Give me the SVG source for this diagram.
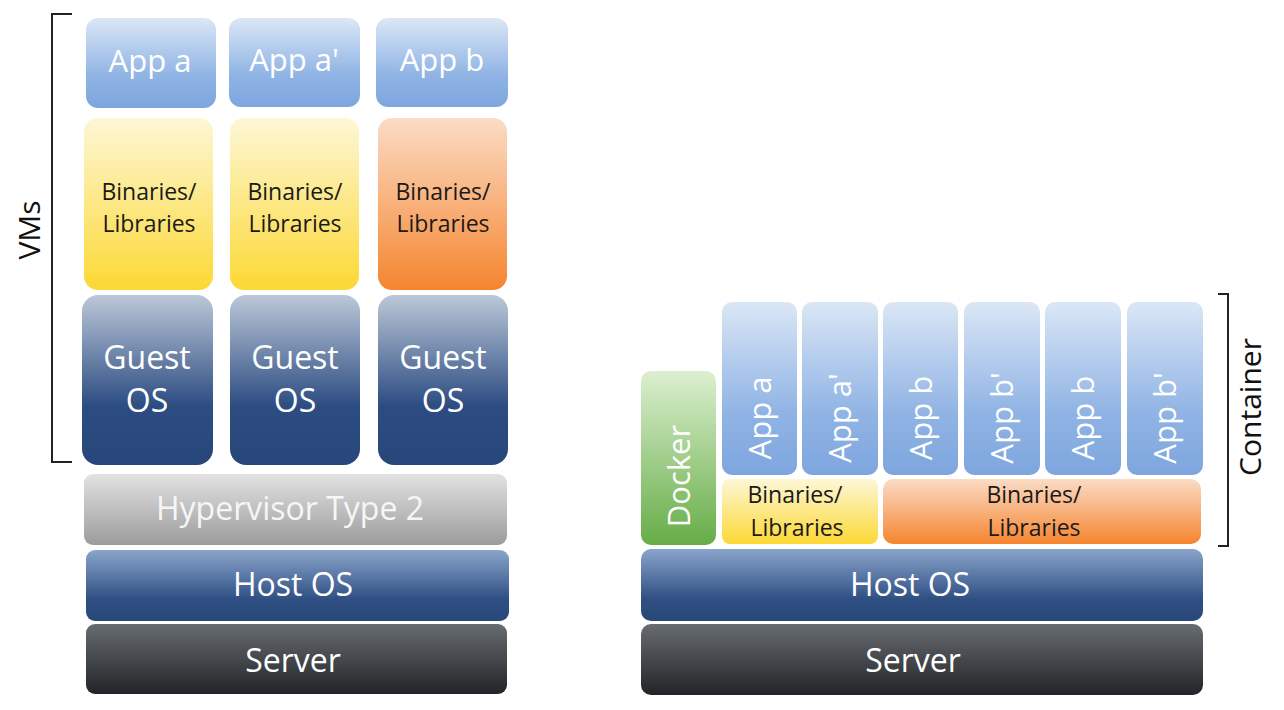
<svg xmlns="http://www.w3.org/2000/svg" width="1284" height="710" viewBox="0 0 1284 710">
<style>
text{font-family:"Open Sans","Liberation Sans",sans-serif;text-anchor:middle}
.w{fill:#ffffff}
.d{fill:#1a1a1a;font-size:23px}
.big{font-size:31px}
.lay{font-size:32px}
.rot{font-size:31px}
.br{fill:none;stroke:#222;stroke-width:2}
</style>
<defs>
<linearGradient id="gApp" x1="0" y1="0" x2="0" y2="1"><stop offset="0" stop-color="#dbe7f6"/><stop offset="0.65" stop-color="#8fb3e4"/><stop offset="1" stop-color="#7ea6de"/></linearGradient>
<linearGradient id="gYel" x1="0" y1="0" x2="0" y2="1"><stop offset="0" stop-color="#fdf7d6"/><stop offset="1" stop-color="#fcd834"/></linearGradient>
<linearGradient id="gOra" x1="0" y1="0" x2="0" y2="1"><stop offset="0" stop-color="#fbdcc6"/><stop offset="1" stop-color="#f5852f"/></linearGradient>
<linearGradient id="gGuest" x1="0" y1="0" x2="0" y2="1"><stop offset="0" stop-color="#bcc8d9"/><stop offset="0.65" stop-color="#2d4d82"/><stop offset="1" stop-color="#27467a"/></linearGradient>
<linearGradient id="gHyp" x1="0" y1="0" x2="0" y2="1"><stop offset="0" stop-color="#e2e2e2"/><stop offset="1" stop-color="#9c9c9c"/></linearGradient>
<linearGradient id="gHost" x1="0" y1="0" x2="0" y2="1"><stop offset="0" stop-color="#8aa5cb"/><stop offset="0.7" stop-color="#2f4f83"/><stop offset="1" stop-color="#294879"/></linearGradient>
<linearGradient id="gSrv" x1="0" y1="0" x2="0" y2="1"><stop offset="0" stop-color="#676c71"/><stop offset="1" stop-color="#222427"/></linearGradient>
<linearGradient id="gDock" x1="0" y1="0" x2="0" y2="1"><stop offset="0" stop-color="#dcefd0"/><stop offset="1" stop-color="#66ad47"/></linearGradient>
</defs>

<g id="connectors">
<path class="br" d="M72,14 H52 V462 H72"/>
<path class="br" d="M1218,294 H1228 V546 H1218"/>
</g>

<g id="label-vms"><text font-size="30" fill="#111" transform="translate(40,230) rotate(-90)">VMs</text></g>
<g id="label-container"><text font-size="30" fill="#111" transform="translate(1261,407) rotate(-90)">Container</text></g>

<g id="vm-app-a"><rect x="86" y="18" width="130" height="90" rx="12" fill="url(#gApp)"/><text class="w big" x="150" y="72">App a</text></g>
<g id="vm-app-a2"><rect x="229" y="18" width="131" height="89" rx="12" fill="url(#gApp)"/><text class="w big" x="294" y="71">App a'</text></g>
<g id="vm-app-b"><rect x="376" y="18" width="132" height="89" rx="12" fill="url(#gApp)"/><text class="w big" x="442" y="71">App b</text></g>

<g id="vm-bin-1"><rect x="84" y="118" width="129" height="172" rx="14" fill="url(#gYel)"/><text class="d" x="149" y="200">Binaries/</text><text class="d" x="149" y="232">Libraries</text></g>
<g id="vm-bin-2"><rect x="230" y="118" width="129" height="172" rx="14" fill="url(#gYel)"/><text class="d" x="295" y="200">Binaries/</text><text class="d" x="295" y="232">Libraries</text></g>
<g id="vm-bin-3"><rect x="378" y="118" width="129" height="172" rx="14" fill="url(#gOra)"/><text class="d" x="443" y="200">Binaries/</text><text class="d" x="443" y="232">Libraries</text></g>

<g id="vm-guest-1"><rect x="82" y="295" width="131" height="170" rx="16" fill="url(#gGuest)"/><text class="w lay" x="147" y="369">Guest</text><text class="w lay" x="147" y="412">OS</text></g>
<g id="vm-guest-2"><rect x="230" y="295" width="130" height="170" rx="16" fill="url(#gGuest)"/><text class="w lay" x="295" y="369">Guest</text><text class="w lay" x="295" y="412">OS</text></g>
<g id="vm-guest-3"><rect x="378" y="295" width="130" height="170" rx="16" fill="url(#gGuest)"/><text class="w lay" x="443" y="369">Guest</text><text class="w lay" x="443" y="412">OS</text></g>

<g id="vm-hypervisor"><rect x="84" y="474" width="423" height="71" rx="9" fill="url(#gHyp)"/><text class="lay" fill="#f6f6f6" x="290" y="520">Hypervisor Type 2</text></g>
<g id="vm-hostos"><rect x="86" y="550" width="423" height="71" rx="9" fill="url(#gHost)"/><text class="w lay" x="293" y="596">Host OS</text></g>
<g id="vm-server"><rect x="86" y="624" width="421" height="70" rx="9" fill="url(#gSrv)"/><text class="w lay" x="293" y="672">Server</text></g>

<g id="docker"><rect x="641" y="371" width="75" height="174" rx="10" fill="url(#gDock)"/><text class="w rot" transform="translate(690,476) rotate(-90)">Docker</text></g>

<g id="c-app-1"><rect x="722" y="302" width="75" height="173" rx="10" fill="url(#gApp)"/><text class="w rot" transform="translate(771,418) rotate(-90)">App a</text></g>
<g id="c-app-2"><rect x="802" y="302" width="76" height="173" rx="10" fill="url(#gApp)"/><text class="w rot" transform="translate(851,418) rotate(-90)">App a'</text></g>
<g id="c-app-3"><rect x="883" y="302" width="75" height="173" rx="10" fill="url(#gApp)"/><text class="w rot" transform="translate(932,418) rotate(-90)">App b</text></g>
<g id="c-app-4"><rect x="964" y="302" width="76" height="173" rx="10" fill="url(#gApp)"/><text class="w rot" transform="translate(1013,418) rotate(-90)">App b'</text></g>
<g id="c-app-5"><rect x="1045" y="302" width="76" height="173" rx="10" fill="url(#gApp)"/><text class="w rot" transform="translate(1094,418) rotate(-90)">App b</text></g>
<g id="c-app-6"><rect x="1127" y="302" width="76" height="173" rx="10" fill="url(#gApp)"/><text class="w rot" transform="translate(1176,418) rotate(-90)">App b'</text></g>

<g id="c-bin-yellow"><rect x="722" y="479" width="156" height="65" rx="8" fill="url(#gYel)"/><text class="d" x="795" y="503">Binaries/</text><text class="d" x="797" y="536">Libraries</text></g>
<g id="c-bin-orange"><rect x="883" y="479" width="318" height="65" rx="10" fill="url(#gOra)"/><text class="d" x="1034" y="503">Binaries/</text><text class="d" x="1034" y="536">Libraries</text></g>

<g id="c-hostos"><rect x="641" y="549" width="562" height="72" rx="10" fill="url(#gHost)"/><text class="w lay" x="910" y="596">Host OS</text></g>
<g id="c-server"><rect x="641" y="624" width="562" height="71" rx="10" fill="url(#gSrv)"/><text class="w lay" x="913" y="672">Server</text></g>
</svg>
